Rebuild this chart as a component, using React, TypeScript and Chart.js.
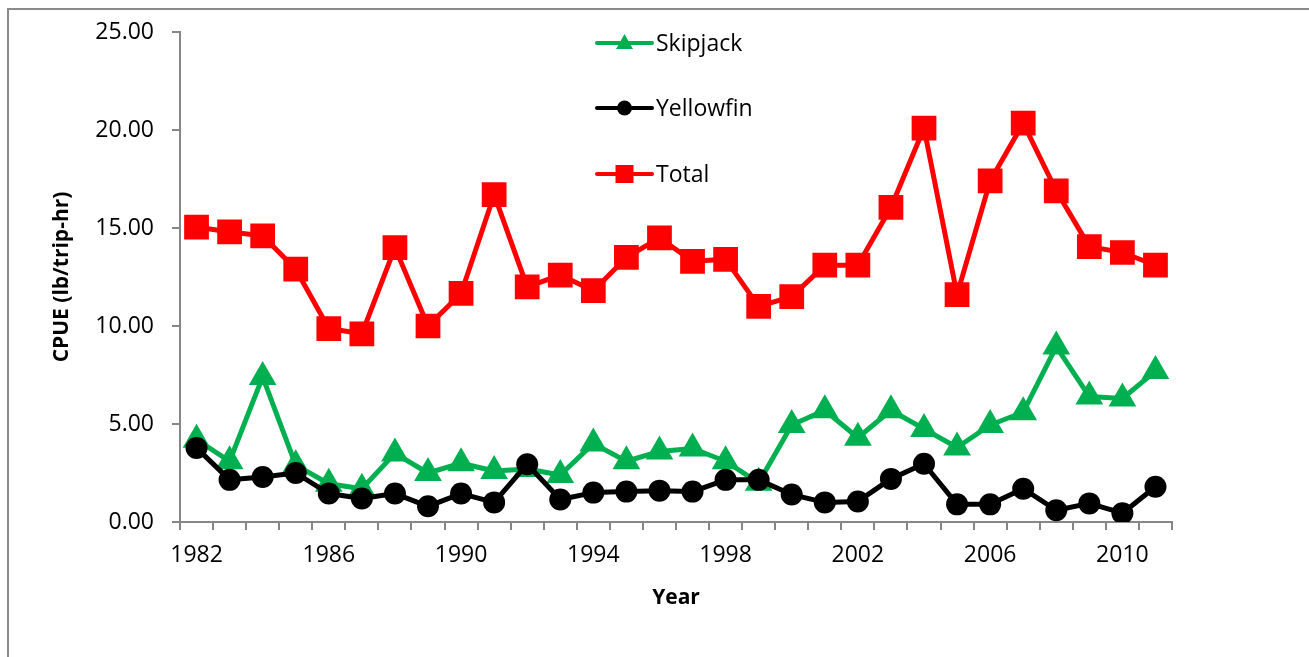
import React, { useEffect, useRef } from "react";
import { Chart, registerables } from "chart.js";

Chart.register(...registerables);

const years: string[] = [
  "1982", "1983", "1984", "1985", "1986", "1987", "1988", "1989", "1990", "1991",
  "1992", "1993", "1994", "1995", "1996", "1997", "1998", "1999", "2000", "2001",
  "2002", "2003", "2004", "2005", "2006", "2007", "2008", "2009", "2010", "2011",
];

const skipjack: number[] = [
  4.2, 3.1, 7.4, 2.9, 1.95, 1.7, 3.5, 2.5, 3.0, 2.6,
  2.7, 2.4, 4.0, 3.1, 3.6, 3.75, 3.1, 2.0, 4.95, 5.7,
  4.3, 5.7, 4.75, 3.8, 4.95, 5.6, 8.95, 6.4, 6.3, 7.7,
];

const yellowfin: number[] = [
  3.78, 2.15, 2.3, 2.5, 1.45, 1.2, 1.45, 0.8, 1.45, 1.0,
  2.95, 1.15, 1.5, 1.55, 1.6, 1.55, 2.15, 2.15, 1.4, 1.0,
  1.05, 2.2, 2.97, 0.9, 0.9, 1.7, 0.6, 0.95, 0.45, 1.8,
];

const total: number[] = [
  15.05, 14.8, 14.6, 12.9, 9.87, 9.6, 14.0, 10.0, 11.66, 16.7,
  12.0, 12.6, 11.8, 13.5, 14.5, 13.3, 13.4, 11.0, 11.5, 13.1,
  13.1, 16.05, 20.1, 11.6, 17.4, 20.35, 16.9, 14.05, 13.75, 13.1,
];

const seriesNames = ["Skipjack", "Yellowfin", "Total"];
const seriesColors = ["#00B050", "#000000", "#FF0000"];
const yTickValues = [0, 5, 10, 15, 20, 25];

const FONT = "'Open Sans', 'DejaVu Sans', sans-serif";
const AXIS_GREY = "#868686";

const frameAndLegend = {
  id: "frameAndLegend",
  beforeDraw(chart: any) {
    const ctx = chart.ctx;
    ctx.save();
    ctx.fillStyle = "#ffffff";
    ctx.fillRect(0, 0, chart.width, chart.height);
    ctx.strokeStyle = "#8a8a8a";
    ctx.lineWidth = 2;
    ctx.strokeRect(8, 9, chart.width + 50, chart.height + 50);
    ctx.restore();
  },
  afterDraw(chart: any) {
    const ctx = chart.ctx;
    const rows = [43, 108, 174];
    const x0 = 597;
    const x1 = 652;
    const cx = (x0 + x1) / 2;
    ctx.save();
    chart.data.datasets.forEach((ds: any, i: number) => {
      const y = rows[i];
      ctx.strokeStyle = ds.borderColor;
      ctx.lineWidth = 4;
      ctx.lineCap = "round";
      ctx.beginPath();
      ctx.moveTo(x0, y);
      ctx.lineTo(x1, y);
      ctx.stroke();
      ctx.fillStyle = ds.borderColor;
      ctx.beginPath();
      if (ds.pointStyle === "triangle") {
        ctx.moveTo(cx, y - 9);
        ctx.lineTo(cx + 8.5, y + 6);
        ctx.lineTo(cx - 8.5, y + 6);
        ctx.closePath();
      } else if (ds.pointStyle === "circle") {
        ctx.arc(cx, y, 7.5, 0, Math.PI * 2);
      } else {
        ctx.rect(cx - 9, y - 9, 18, 18);
      }
      ctx.fill();
      ctx.fillStyle = "#000000";
      ctx.font = `23px ${FONT}`;
      ctx.textAlign = "left";
      ctx.textBaseline = "middle";
      ctx.fillText(ds.label, 656, y + 1);
    });
    ctx.restore();
  },
};

export default function App() {
  const canvasRef = useRef<HTMLCanvasElement | null>(null);

  useEffect(() => {
    if (!canvasRef.current) return;
    const chart = new Chart(canvasRef.current, {
      type: "line",
      data: {
        labels: years,
        datasets: [
          {
            label: seriesNames[0],
            data: skipjack,
            borderColor: seriesColors[0],
            backgroundColor: seriesColors[0],
            borderWidth: 5,
            pointStyle: "triangle",
            pointRadius: 16,
            pointBorderWidth: 0,
            pointBackgroundColor: seriesColors[0],
            borderJoinStyle: "round",
            tension: 0,
            order: 2,
          },
          {
            label: seriesNames[1],
            data: yellowfin,
            borderColor: seriesColors[1],
            backgroundColor: seriesColors[1],
            borderWidth: 5,
            pointStyle: "circle",
            pointRadius: 11,
            pointBorderWidth: 0,
            pointBackgroundColor: seriesColors[1],
            borderJoinStyle: "round",
            tension: 0,
            order: 1,
          },
          {
            label: seriesNames[2],
            data: total,
            borderColor: seriesColors[2],
            backgroundColor: seriesColors[2],
            borderWidth: 5,
            pointStyle: "rect",
            pointRadius: 17.5,
            pointBorderWidth: 0,
            pointBackgroundColor: seriesColors[2],
            borderJoinStyle: "round",
            tension: 0,
            order: 0,
          },
        ],
      },
      options: {
        animation: false,
        responsive: true,
        maintainAspectRatio: false,
        layout: { padding: { left: 0, right: 137, top: 32, bottom: 0 } },
        plugins: {
          legend: { display: false },
          tooltip: { enabled: false },
        },
        scales: {
          x: {
            type: "category",
            offset: true,
            afterFit: (scale: any) => {
              scale.height = 135;
            },
            grid: {
              offset: true,
              drawOnChartArea: false,
              drawTicks: true,
              tickLength: 8,
              color: AXIS_GREY,
              lineWidth: 2,
            },
            border: { display: true, color: AXIS_GREY, width: 2 },
            ticks: {
              autoSkip: false,
              maxRotation: 0,
              minRotation: 0,
              padding: 12,
              color: "#000000",
              font: { family: FONT, size: 23 },
              callback: (_v: any, idx: number) => (idx % 4 === 0 ? years[idx] : ""),
            },
            title: {
              display: true,
              text: "Year",
              color: "#000000",
              font: { family: FONT, size: 21, weight: "bold" },
              padding: { top: 0, bottom: 46 },
            },
          },
          y: {
            min: 0,
            max: 25,
            afterFit: (scale: any) => {
              scale.width = 180;
            },
            afterBuildTicks: (scale: any) => {
              scale.ticks = yTickValues.map((v) => ({ value: v }));
            },
            grid: {
              drawOnChartArea: false,
              drawTicks: true,
              tickLength: 8,
              color: AXIS_GREY,
              lineWidth: 2,
            },
            border: { display: true, color: AXIS_GREY, width: 2 },
            ticks: {
              padding: 18,
              color: "#000000",
              font: { family: FONT, size: 23 },
              callback: (v: any) => Number(v).toFixed(2),
            },
            title: {
              display: true,
              text: "CPUE (lb/trip-hr)",
              color: "#000000",
              font: { family: FONT, size: 21, weight: "bold" },
              padding: { top: 49, bottom: 0 },
            },
          },
        },
      },
      plugins: [frameAndLegend],
    });
    return () => chart.destroy();
  }, []);

  return (
    <div
      style={{
        position: "absolute",
        left: 0,
        top: 0,
        width: 1309,
        height: 657,
        overflow: "hidden",
        background: "#ffffff",
      }}
    >
      <canvas ref={canvasRef} />
    </div>
  );
}
